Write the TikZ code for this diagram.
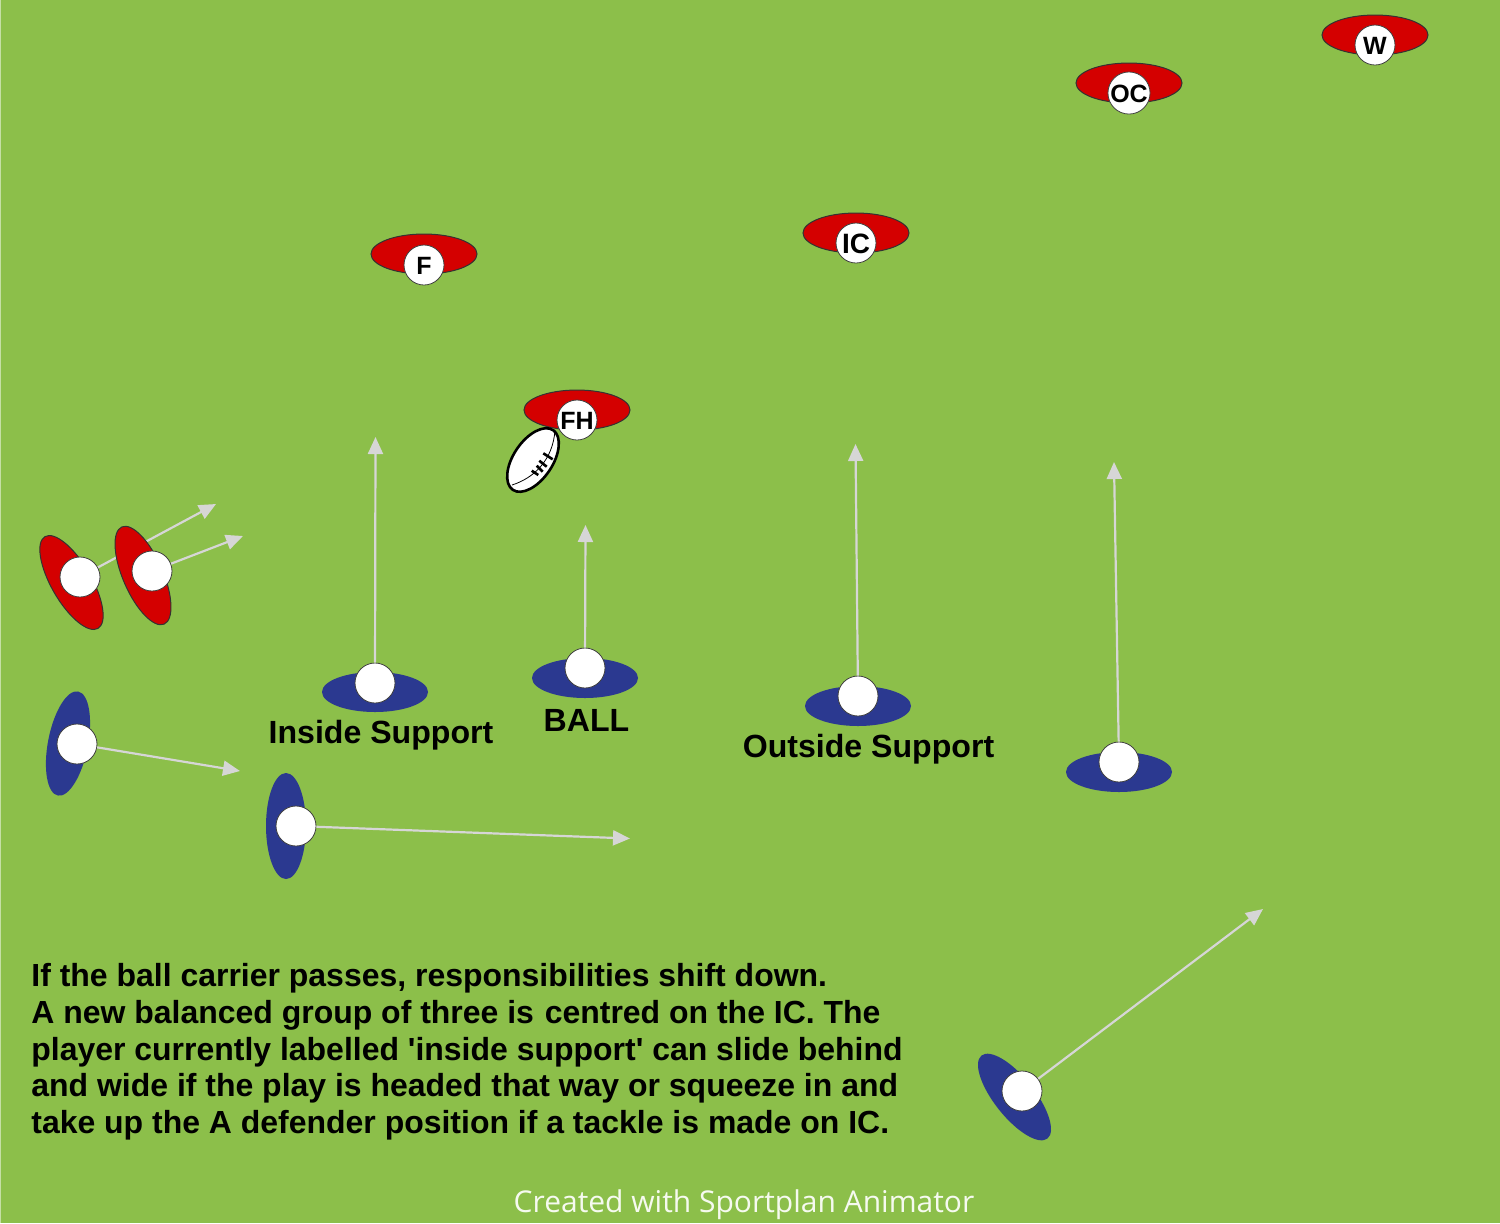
\documentclass[tikz,border=0pt]{standalone}
\usepackage{fontspec}
\setmainfont{Liberation Sans}
\newfontfamily\footfont{Open Sans}
\usetikzlibrary{arrows.meta,shapes.geometric}
\definecolor{pitch}{HTML}{8CBF4A}
\definecolor{edgepale}{HTML}{C5DFA5}
\definecolor{redteam}{HTML}{D40000}
\definecolor{blueteam}{HTML}{2B3990}
\definecolor{runline}{HTML}{D6D6D6}
\tikzset{
  redbody/.style={ellipse, draw=black!80, line width=.5pt, fill=redteam, inner sep=0pt, minimum width=53pt, minimum height=20pt},
  bluebody/.style={ellipse, fill=blueteam, inner sep=0pt, minimum width=53pt, minimum height=20pt},
  head/.style={circle, draw=black!75, line width=.4pt, fill=white, inner sep=0pt, minimum size=20pt, text height=9.6pt, text depth=0pt, font=\fontsize{12.5}{14}\selectfont\bfseries},
  run/.style={draw=runline, line width=1.1pt, -{Triangle[length=8.5pt,width=7.5pt]}},
  tag/.style={font=\fontsize{16.05}{18}\selectfont\bfseries, inner sep=0pt},
  stitch/.style={line width=1.3pt},
}
\begin{document}
\begin{tikzpicture}[x=.5pt,y=-.5pt]
\useasboundingbox (0,0) rectangle (1500,1223);
\fill[pitch] (0,0) rectangle (1500,1223);
\fill[edgepale] (0,0) rectangle (1,1223);
\node[redbody] (bw) at (1375,35){};
\node[head] (hw) at (1375,45){W};
\node[redbody] (boc) at (1129,83){};
\node[head] (hoc) at (1129,93){OC};
\node[redbody] (bic) at (856,233){};
\node[head, text height=10.6pt, font=\fontsize{14}{16}\selectfont\bfseries] (hic) at (856,243){IC};
\node[redbody] (bf) at (424,254){};
\node[head] (hf) at (424,265){F};
\node[redbody] (bfh) at (577,410){};
% ball
\node[ellipse, draw=black, line width=1.3pt, fill=white, inner sep=0pt, minimum width=36pt, minimum height=19.5pt, rotate=56] (ball) at (533,460){};
\coordinate (seam0) at (512,485);
\coordinate (seam1) at (555,430);
\draw[line width=.4pt] (seam0) .. controls (534,478) and (553,460) .. (seam1);
\coordinate (s1a) at (531.7,470.7); \coordinate (s1b) at (538.3,475);
\coordinate (s2a) at (536.7,465.7); \coordinate (s2b) at (542.7,471.7);
\coordinate (s3a) at (539.3,460.7); \coordinate (s3b) at (546.7,466.7);
\coordinate (s4a) at (543.3,453.3); \coordinate (s4b) at (552.7,459.3);
\draw[stitch] (s1a) -- (s1b);
\draw[stitch] (s2a) -- (s2b);
\draw[stitch] (s3a) -- (s3b);
\draw[stitch] (s4a) -- (s4b);
\node[head] (hfh) at (577,420){FH};
% wide defenders
\coordinate (t1) at (216,504);
\coordinate (t2) at (243,536);
\node[redbody, rotate=-60] (br1) at (71.5,582.5){};
\node[head] (hr1) at (80,577){};
\draw[run] (hr1) -- (t1);
\node[redbody, rotate=-66.5] (br2) at (143,575.5){};
\node[head] (hr2) at (152,571){};
\draw[run] (hr2) -- (t2);
% attack
\coordinate (t3) at (375.5,437);
\coordinate (t4) at (585.5,525);
\coordinate (t5) at (855.5,444);
\coordinate (t6) at (1114,462);
\coordinate (t7) at (240,771);
\coordinate (t8) at (630,838.5);
\coordinate (t9) at (1263,909);
\node[bluebody] (ba) at (375,692){};
\node[head] (ha) at (375,683){};
\draw[run] (ha) -- (t3);
\node[bluebody] (bb) at (585,678){};
\node[head] (hb) at (585,668){};
\draw[run] (hb) -- (t4);
\node[bluebody] (bc) at (858,706){};
\node[head] (hc) at (858,696){};
\draw[run] (hc) -- (t5);
\node[bluebody] (bd) at (1119,772){};
\node[head] (hd) at (1119,762){};
\draw[run] (hd) -- (t6);
\node[bluebody, rotate=79] (be) at (68,743.5){};
\node[head] (he) at (77,744){};
\draw[run] (he) -- (t7);
\node[bluebody, rotate=90] (bg) at (286,826){};
\node[head] (hg) at (296,826){};
\draw[run] (hg) -- (t8);
\node[bluebody, rotate=-51.5] (bj) at (1014.5,1097){};
\node[head] (hj) at (1022,1091){};
\draw[run] (hj) -- (t9);
% labels
\node[tag] (linside) at (381,735){Inside Support};
\node[tag] (lball) at (586.5,720){BALL};
\node[tag] (loutside) at (868.5,749){Outside Support};
\node[tag, anchor=north west, align=left, font=\fontsize{15.98}{18.38}\selectfont\bfseries] (notes) at (31,963){If the ball carrier passes, responsibilities shift down.\\
A new balanced group of three is\hspace{1pt} centred on the IC. The\\
player currently labelled \textquotesingle inside support\textquotesingle{} can slide behind\\
and wide if the play is headed that way or squeeze in and\\
take up the A defender position if a tackle is made on IC.};
\node[inner sep=0pt, text=white!92!pitch, font=\fontsize{15}{18}\footfont] (credit) at (744,1205){Created with Sportplan Animator};
\end{tikzpicture}
\end{document}
